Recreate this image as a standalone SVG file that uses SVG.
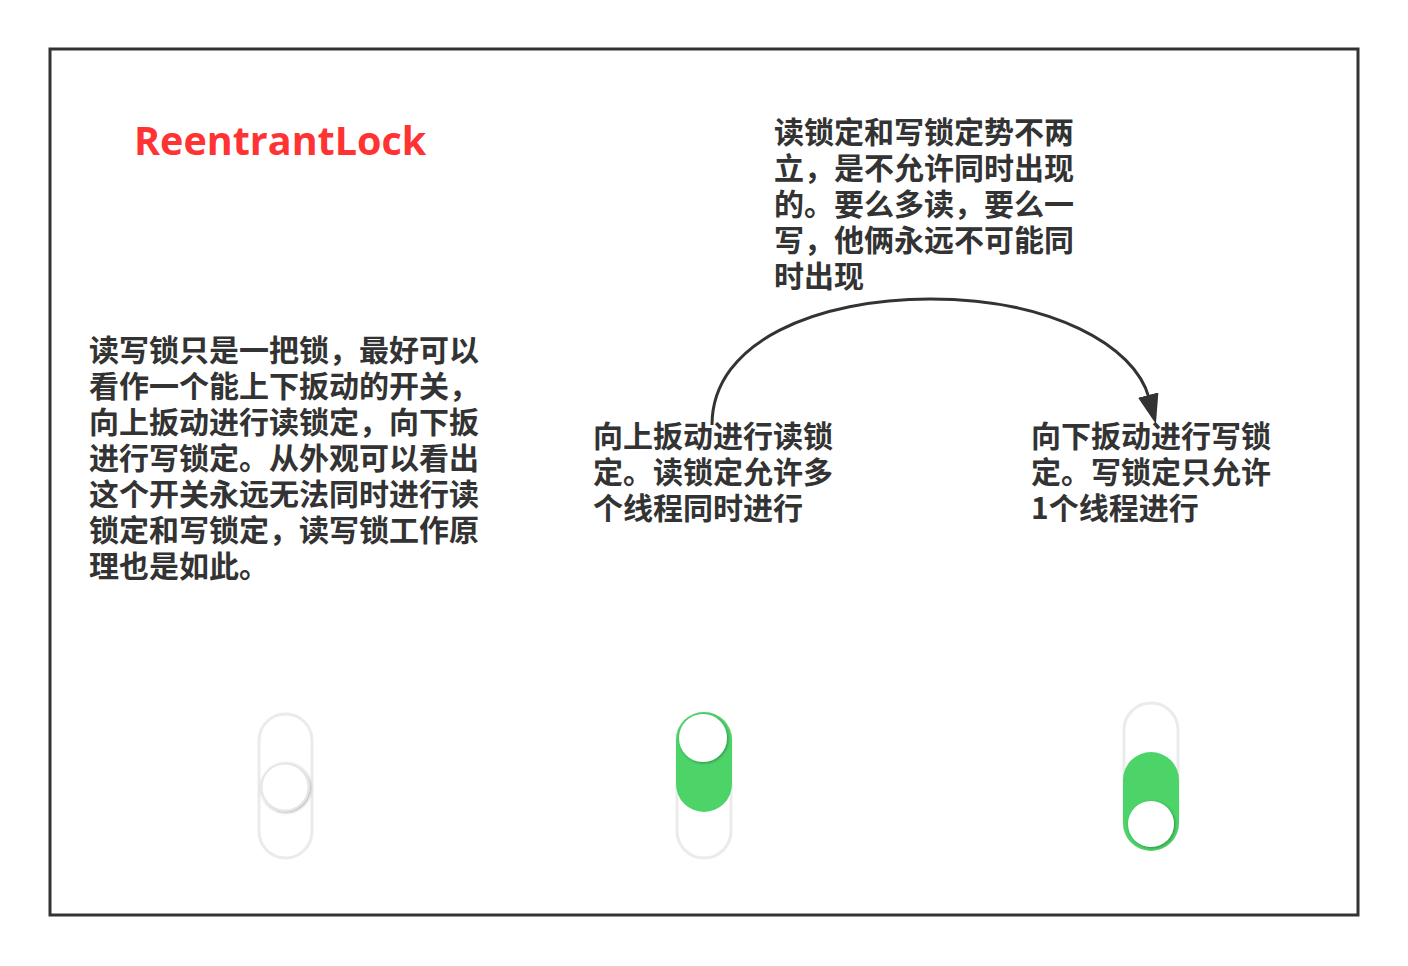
<svg xmlns="http://www.w3.org/2000/svg" width="1408" height="966" viewBox="0 0 1408 966">
<style>
.t{font-family:"Noto Sans CJK SC","Noto Sans",sans-serif;font-weight:bold;font-size:30px;fill:#333}
.track{fill:#fff;stroke:#ebebeb;stroke-width:3}
.on{fill:#4cd469}
.knob{fill:#fff}
</style>
<defs>
<filter id="sh" x="-30%" y="-30%" width="160%" height="160%">
<feGaussianBlur in="SourceAlpha" stdDeviation="1.5"/>
<feOffset dx="1" dy="1" result="b"/>
<feFlood flood-color="#000" flood-opacity="0.35"/>
<feComposite in2="b" operator="in"/>
<feMerge><feMergeNode/><feMergeNode in="SourceGraphic"/></feMerge>
</filter>
<marker id="ah" viewBox="0 0 10 7" refX="1" refY="3.5" markerWidth="10" markerHeight="7" markerUnits="strokeWidth" orient="auto">
<path d="M0,0 L10,3.5 L0,7 z" fill="#333"/>
</marker>
</defs>
<rect x="50" y="49" width="1308" height="866" fill="#fff" stroke="#333" stroke-width="3"/>
<g id="title"><text x="134" y="155" style="font-family:'Open Sans','Noto Sans',sans-serif;font-weight:bold;font-size:39.5px;fill:#ff3333">ReentrantLock</text></g>
<g id="desc">
<text class="t"><tspan x="89" y="361">读写锁只是一把锁，最好可以</tspan><tspan x="89" y="397">看作一个能上下扳动的开关，</tspan><tspan x="89" y="433">向上扳动进行读锁定，向下扳</tspan><tspan x="89" y="469">进行写锁定。从外观可以看出</tspan><tspan x="89" y="505">这个开关永远无法同时进行读</tspan><tspan x="89" y="541">锁定和写锁定，读写锁工作原</tspan><tspan x="89" y="577">理也是如此。</tspan></text>
</g>
<g id="note">
<text class="t"><tspan x="774" y="143">读锁定和写锁定势不两</tspan><tspan x="774" y="179">立，是不允许同时出现</tspan><tspan x="774" y="215">的。要么多读，要么一</tspan><tspan x="774" y="251">写，他俩永远不可能同</tspan><tspan x="774" y="287">时出现</tspan></text>
</g>
<g id="readlock">
<text class="t"><tspan x="593" y="447">向上扳动进行读锁</tspan><tspan x="593" y="483">定。读锁定允许多</tspan><tspan x="593" y="519">个线程同时进行</tspan></text>
</g>
<g id="writelock">
<text class="t"><tspan x="1031" y="447">向下扳动进行写锁</tspan><tspan x="1031" y="483">定。写锁定只允许</tspan><tspan x="1031" y="519">1个线程进行</tspan></text>
</g>
<g id="connectors">
<path d="M712,425 C712,340 820,299 930,299 C1050,299 1135,345 1149,398" fill="none" stroke="#333" stroke-width="3" marker-end="url(#ah)"/>
</g>
<g id="switch-off">
<rect class="track" x="259" y="714" width="53" height="144" rx="26.5"/>
<circle cx="285" cy="787" r="23.5" fill="#fff" stroke="#e6e6e6" stroke-width="2" filter="url(#sh)"/>
</g>
<g id="switch-up">
<rect class="track" x="677" y="713" width="54" height="145" rx="27"/>
<rect class="on" x="676" y="712" width="56" height="100" rx="28"/>
<circle class="knob" cx="703" cy="738" r="24" filter="url(#sh)"/>
</g>
<g id="switch-down">
<rect class="track" x="1124" y="703" width="54" height="146" rx="27"/>
<rect class="on" x="1123" y="752" width="56" height="99" rx="28"/>
<circle class="knob" cx="1151" cy="824" r="23" filter="url(#sh)"/>
</g>
</svg>
